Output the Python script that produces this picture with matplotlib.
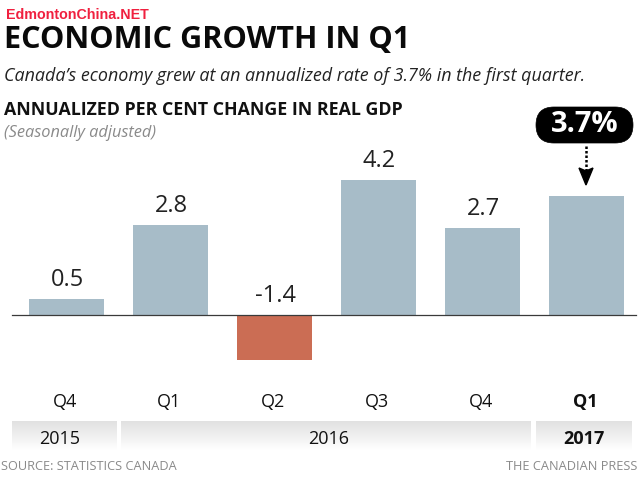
import numpy as np
import matplotlib
matplotlib.use("Agg")
import matplotlib.pyplot as plt
from matplotlib.patches import FancyBboxPatch

quarters = ["Q4", "Q1", "Q2", "Q3", "Q4", "Q1"]
values = [0.5, 2.8, -1.4, 4.2, 2.7, 3.7]
labels = ["0.5", "2.8", "-1.4", "4.2", "2.7", None]
years = ["2015", "2016", "2017"]
BLUE, RED = "#a7bcc8", "#cb6d54"
plt.rcParams["font.family"] = ["Open Sans", "DejaVu Sans"]

W, H = 640, 480
fig = plt.figure(figsize=(6.4, 4.8), dpi=100, facecolor="white")

pg = fig.add_axes([0, 0, 1, 1], zorder=1)
pg.set_xlim(0, W); pg.set_ylim(H, 0); pg.axis("off")

ax = fig.add_axes([0, 0, 1, 1], zorder=2)
ax.patch.set_alpha(0)
ax.set_xlim(-66 / 104, (W - 66) / 104)
ax.set_ylim(-165 / 32.1, 315 / 32.1)
ax.axis("off")

x = np.arange(len(values))
ax.bar(x, values, width=75 / 104, color=[RED if v < 0 else BLUE for v in values], zorder=2)
ax.plot([-54 / 104, 570 / 104], [0, 0], color="#3a3a3a", lw=0.9, zorder=3)
for i, (v, t) in enumerate(zip(values, labels)):
    if t:
        ax.annotate(t, (i, max(v, 0)), xytext=(1, 7), textcoords="offset pixels",
                    ha="center", va="bottom", fontsize=17, color="#222222")

for i, q in enumerate(quarters):
    ax.annotate(q, (i, 0), xytext=(-1, -87), textcoords="offset pixels", ha="center", va="center",
                fontsize=13, color="#111111", fontweight="bold" if i == 5 else "normal")

grad = np.linspace(0.88, 1.0, 64).reshape(-1, 1)
bands = [(12, 117), (121, 531), (536, 632)]
year_centers = [60, 329, 584]
for (a, b), yr, c, w in zip(bands, years, year_centers, ["normal", "normal", "bold"]):
    pg.imshow(grad, extent=(a, b, 451, 421), cmap="gray", vmin=0, vmax=1, aspect="auto", zorder=1)
    pg.text(c, 438.5, yr, ha="center", va="center", fontsize=13, color="#111111", fontweight=w, zorder=2)
pg.set_xlim(0, W); pg.set_ylim(H, 0)

pg.text(6, 15, "EdmontonChina.NET", family=["Liberation Sans"], fontweight="bold",
        fontsize=10.3, color="#f0203f", va="center", ha="left")
pg.text(4, 40, "ECONOMIC GROWTH IN Q1", fontsize=22.1, fontweight="bold", color="#0a0a0a", va="center", ha="left")
pg.text(4, 76, "Canada’s economy grew at an annualized rate of 3.7% in the first quarter.",
        fontsize=12.85, style="italic", color="#222222", va="center", ha="left")
pg.text(4, 110, "ANNUALIZED PER CENT CHANGE IN REAL GDP", fontsize=12.75, fontweight="bold",
        color="#111111", va="center", ha="left")
pg.text(4, 133, "(Seasonally adjusted)", fontsize=11.8, style="italic", color="#8a8a8a", va="center", ha="left")
pg.text(1, 467, "SOURCE: STATISTICS CANADA", fontsize=9.15, color="#8a8a8a", va="center", ha="left")
pg.text(637, 467, "THE CANADIAN PRESS", fontsize=9.15, color="#8a8a8a", va="center", ha="right")

pg.add_patch(FancyBboxPatch((536, 107), 97, 36, boxstyle="round,pad=0,rounding_size=18",
                            fc="black", ec="black", lw=0.5, zorder=3))
pg.text(584.5, 124, "3.7%", color="white", fontsize=21, fontweight="bold", ha="center", va="center", zorder=4)
pg.plot([586, 586], [146, 172], color="black", lw=1.8, ls=(0, (1, 0.8)), zorder=3)
pg.fill([579, 586, 593, 586], [168, 171, 168, 185], color="black", zorder=3)
pg.set_xlim(0, W); pg.set_ylim(H, 0)

fig.savefig("out.png", dpi=100)
